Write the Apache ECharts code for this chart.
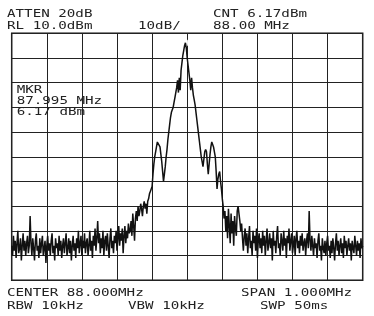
<!DOCTYPE html>
<html>
<head>
<meta charset="utf-8">
<script src="https://cdn.jsdelivr.net/npm/echarts@6/dist/echarts.min.js"></script>
<style>
html,body{margin:0;padding:0;background:#fff;}
#chart{width:374px;height:316px;}
</style>
</head>
<body>
<div id="chart"></div>
<script>
// Sweep settings (MHz)
var startMHz = 87.5;
var stopMHz = 88.5;
var refLevel = 10;      // dBm top of screen
var bottomLevel = -90;  // dBm bottom of screen
var dbPerDiv = 10;
var freqPerDiv = 0.1;

// Trace levels in dBm (401 sweep points)
var noiseLeft = [
  -76,-80,-72,-78,-74,-81,-75,-70,-79,-77,-73,-82,-76,-71,-78,-74,-80,-75,-72,-79,-76,
  -64,
  -75,-80,-73,-77,-82,-74,-71,-78,-76,-81,-73,-79,-75,-72,-80,-77,-74,-83,-76,
  -72,-78,-75,-80,-74,-71,-79,-76,-82,-73,-77,-75,-80,-72,-78,-74,-81,-76,-73,-79,
  -75,-71,-80,-77,-73,-79,-74,-82,-76,-72,-78,-75,-81,-73,-77,-70,-79,-75,-72,-80,
  -74,-77,-71,-79,-75,-73,-80,-76,-70,-78,-74,-81,-72,-76,-69,-78,-73,
  -66,
  -75,-71,-79,-73,-77,-70,-80,-74,-72,-78,-71,-76,-81,-73,-69,-77,-74,-79,-72,-75,-70,-78,-73,-68,-76,-71,-74,-69
];
var carrier = [
  -79,
  -72,-68,-75,-70,-73,-67,-71,
  -70,-66,-72,-63,-68,-74,-65,-62,-66,-60,
  -64,-62,-59,-61,-64,-60,-58,-61,-59,-63,
  -58,-57,-55,-54,-53,-52,-47,-43,-40,-38,
  -36,-34,-33.5,-34,-36,-39,-42,-46,-50,-47,
  -44,-40,-37,-33,-30,-27,-24,-22,-21,-20,
  -18,-16,-14,-12,-9,-14,-8,-13,-5,-2,
  1,3,5,6.17,4,0,-3,-6,-9,-13,
  -8,-12,-15,-17,-19,-22,-25,-28,-31,-34,
  -37,-40,-42,-44,-41,-38,-37,-38,-43,-47,
  -43,-39,-36,-34,-34.5,-36,-38,-40,-46,-53,
  -49,-47,-46,-50,-53,-57,-60,
  -65,-62,-70,-64,-73,-61,-68,-75,-63,-71,-66,-76,-64,-69,-72,
  -62,-60,-63,-66,-70,-67,-73,-78
];
var noiseRight = [
  -72,-69,-76,-71,-79,-73,-68,-77,-74,-80,
  -70,-75,-72,-78,-69,-81,-74,-71,-77,-73,
  -79,-70,-76,-72,-80,-74,-69,-78,-75,-71,
  -77,-73,-82,-70,-76,-74,-79,-72,-68,-77,
  -75,-80,-71,-74,-78,-70,-76,-73,-81,-72,
  -75,-69,-78,-74,-71,-79,-76,-72,-80,-73,
  -70,-77,-74,-79,-72,-76,-71,-78,-75,-73,
  -80,-74,-71,-77,
  -62,
  -74,-78,-72,-76,-80,-73,-77,-75,-81,-74,
  -71,-78,-76,-82,-73,-77,-79,-74,-80,-75,
  -72,-78,-76,-81,-74,-79,-73,-77,-82,-75,
  -71,-78,-74,-80,-76,-73,-79,-75,-81,-72,
  -77,-74,-80,-76,-73,-78,-75,-82,-74,-77,
  -79,-72,-76,-80,-74,-78,-75,-81,-73,-77,
  -76
];

// Marker
var markerFreq = 87.995;
var markerLevel = 6.17;

// Annotation texts
var topLine1 = ['ATTEN 20dB', 'CNT 6.17dBm'];
var topLine2 = ['RL 10.0dBm', '10dB/', '88.00 MHz'];
var markerLines = ['MKR', '87.995 MHz', '6.17 dBm'];
var bottomLine1 = ['CENTER 88.000MHz', 'SPAN 1.000MHz'];
var bottomLine2 = ['RBW 10kHz', 'VBW 10kHz', 'SWP 50ms'];

var levels = noiseLeft.concat(carrier, noiseRight);
var n = levels.length;
var trace = levels.map(function (v, i) {
  return [startMHz + (stopMHz - startMHz) * i / (n - 1), v];
});

var FONT = '11px "DejaVu Sans Mono"';
var SX = 1.29;
function txt(s, x, y) {
  return {
    type: 'text', x: x, y: y, scaleX: SX, scaleY: 1,
    style: { text: s, font: FONT, fill: '#222', textAlign: 'left', textVerticalAlign: 'middle' }
  };
}

var chart = echarts.init(document.getElementById('chart'), null, { renderer: 'canvas' });
chart.setOption({
  backgroundColor: '#fff',
  animation: false,
  grid: {
    left: 11.7, top: 33.3, right: 11.3, bottom: 35.7,
    show: true, borderColor: '#111', borderWidth: 1.5, backgroundColor: 'transparent'
  },
  xAxis: {
    type: 'value', min: startMHz, max: stopMHz, interval: freqPerDiv,
    axisLine: { show: false }, axisTick: { show: false }, axisLabel: { show: false },
    splitLine: { show: true, lineStyle: { color: '#222', width: 1 } }
  },
  yAxis: {
    type: 'value', min: bottomLevel, max: refLevel, interval: dbPerDiv,
    axisLine: { show: false }, axisTick: { show: false }, axisLabel: { show: false },
    splitLine: { show: true, lineStyle: { color: '#222', width: 1 } }
  },
  series: [
    {
      type: 'line', data: trace, showSymbol: false, symbol: 'none',
      lineStyle: { color: '#111', width: 1.5 }, silent: true
    },
    {
      type: 'scatter', data: [[markerFreq, markerLevel]],
      symbol: 'emptyCircle', symbolSize: 5,
      itemStyle: { color: '#fff', borderColor: '#111', borderWidth: 1 }
    }
  ],
  graphic: [
    txt(topLine1[0], 7, 13.7),
    txt(topLine1[1], 213, 13.7),
    txt(topLine2[0], 7, 26.3),
    txt(topLine2[1], 138, 26.3),
    txt(topLine2[2], 213, 26.3),
    txt(markerLines[0], 16.7, 90),
    txt(markerLines[1], 16.7, 100.7),
    txt(markerLines[2], 16.7, 111.7),
    txt(bottomLine1[0], 7, 293.5),
    txt(bottomLine1[1], 241, 293.5),
    txt(bottomLine2[0], 7, 306),
    txt(bottomLine2[1], 128, 306),
    txt(bottomLine2[2], 260, 306)
  ]
});
</script>
</body>
</html>
